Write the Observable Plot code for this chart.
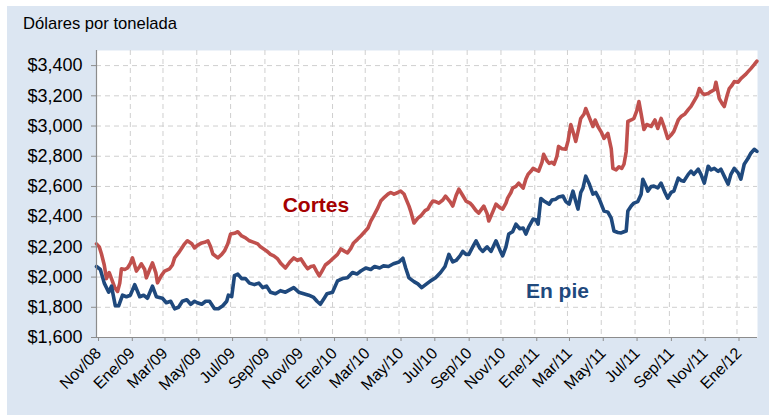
<!DOCTYPE html>
<html>
<head>
<meta charset="utf-8">
<script src="https://cdn.jsdelivr.net/npm/d3@7"></script>
<script src="https://cdn.jsdelivr.net/npm/@observablehq/plot@0.6"></script>
<style>
  html, body { margin: 0; padding: 0; background: white; }
  #wrap { position: relative; width: 769px; height: 415px; background: white; overflow: hidden; }
  #bg { position: absolute; left: 7px; top: 6px; right: 0; bottom: 0; background: #dce6f2; }
  #title { position: absolute; left: 23px; top: 15px; font: 16.6px "Liberation Sans", Arial, sans-serif; line-height: 17px; color: #000; }
  #chart { position: absolute; left: 0; top: 0; }
</style>
</head>
<body>
<div id="wrap">
  <div id="bg"></div>
  <div id="chart"></div>
  <div id="title">Dólares por tonelada</div>
</div>
<script>
// ---- Data ----
const seriesNames = ["Cortes", "En pie"];

const redDates = [
  "2008-11-01","2008-11-06","2008-11-10","2008-11-15","2008-11-19","2008-11-24","2008-11-30",
  "2008-12-04","2008-12-09","2008-12-13","2008-12-16","2008-12-22","2008-12-27",
  "2009-01-01","2009-01-05","2009-01-12","2009-01-18","2009-01-21","2009-01-27","2009-01-30",
  "2009-02-05","2009-02-10","2009-02-16","2009-02-19","2009-02-26",
  "2009-03-04","2009-03-13","2009-03-18","2009-03-22","2009-03-29",
  "2009-04-04","2009-04-09","2009-04-14","2009-04-22","2009-04-27",
  "2009-05-02","2009-05-10","2009-05-15","2009-05-21","2009-05-26","2009-05-30",
  "2009-06-08","2009-06-15","2009-06-20","2009-06-26",
  "2009-07-01","2009-07-08","2009-07-14","2009-07-21","2009-07-28",
  "2009-08-04","2009-08-12","2009-08-19","2009-08-24",
  "2009-09-04","2009-09-11","2009-09-17","2009-09-24","2009-09-29",
  "2009-10-08","2009-10-16","2009-10-23","2009-10-30",
  "2009-11-05","2009-11-12","2009-11-17","2009-11-23","2009-11-28",
  "2009-12-03","2009-12-08","2009-12-13","2009-12-19","2009-12-26",
  "2010-01-03","2010-01-10","2010-01-16","2010-01-23","2010-01-28",
  "2010-02-03","2010-02-08","2010-02-15","2010-02-21","2010-02-28",
  "2010-03-06","2010-03-11","2010-03-16","2010-03-24","2010-03-29",
  "2010-04-05","2010-04-11","2010-04-16","2010-04-22","2010-04-29",
  "2010-05-04","2010-05-10","2010-05-13","2010-05-19","2010-05-22","2010-05-28",
  "2010-06-04","2010-06-09","2010-06-17","2010-06-22","2010-06-27",
  "2010-07-01","2010-07-06","2010-07-12","2010-07-19","2010-07-24",
  "2010-08-01","2010-08-06","2010-08-12","2010-08-17","2010-08-24","2010-08-30",
  "2010-09-06","2010-09-11","2010-09-17","2010-09-22","2010-09-27",
  "2010-10-01","2010-10-07","2010-10-10","2010-10-17","2010-10-23","2010-10-30",
  "2010-11-04","2010-11-10","2010-11-13","2010-11-19","2010-11-22","2010-11-28",
  "2010-12-03","2010-12-11","2010-12-16","2010-12-20","2010-12-25","2010-12-29",
  "2011-01-03","2011-01-08","2011-01-14","2011-01-17","2011-01-23","2011-01-27",
  "2011-02-01","2011-02-05","2011-02-10","2011-02-13","2011-02-19","2011-02-26",
  "2011-03-02","2011-03-07","2011-03-12","2011-03-16","2011-03-21","2011-03-25","2011-03-31",
  "2011-04-03","2011-04-09","2011-04-16","2011-04-20","2011-04-25",
  "2011-05-01","2011-05-06","2011-05-13","2011-05-19","2011-05-22","2011-05-28",
  "2011-06-02","2011-06-07","2011-06-11","2011-06-15","2011-06-18","2011-06-24","2011-06-29",
  "2011-07-04","2011-07-08","2011-07-12","2011-07-17","2011-07-22","2011-07-30",
  "2011-08-06","2011-08-11","2011-08-17","2011-08-22","2011-08-29",
  "2011-09-04","2011-09-09","2011-09-17","2011-09-22","2011-09-29",
  "2011-10-05","2011-10-10","2011-10-15","2011-10-21","2011-10-25","2011-10-30",
  "2011-11-03","2011-11-10","2011-11-15","2011-11-21","2011-11-24","2011-11-30",
  "2011-12-05","2011-12-09","2011-12-14","2011-12-18","2011-12-23","2011-12-27",
  "2012-01-03","2012-01-08","2012-01-16","2012-01-21","2012-01-26",
  "2012-02-01","2012-02-06"
];
const redValues = [
  2220,2200,2153,2080,1990,2030,1970,
  1930,1905,1960,2055,2050,2060,
  2090,2127,2040,2070,2088,2050,1995,
  2050,2094,2030,1962,2010,
  2040,2055,2080,2127,2160,
  2193,2220,2240,2220,2193,
  2210,2226,2230,2240,2200,2153,
  2127,2150,2173,2220,
  2285,2290,2300,2272,2260,
  2240,2230,2220,2200,
  2173,2150,2140,2120,2094,
  2060,2100,2127,2110,
  2120,2080,2055,2070,2074,
  2040,2008,2040,2080,2100,
  2127,2150,2186,2170,2160,
  2190,2226,2250,2272,2300,
  2325,2370,2404,2460,2503,
  2530,2549,2560,2549,2560,
  2569,2550,2523,2470,2437,2358,
  2390,2404,2440,2450,2483,
  2503,2500,2490,2510,2536,
  2500,2470,2540,2582,2540,2503,
  2490,2470,2440,2424,2450,
  2470,2420,2371,2430,2483,2460,
  2450,2490,2523,2560,2589,2600,
  2622,2589,2650,2681,2700,2720,
  2710,2701,2760,2813,2770,2753,
  2760,2747,2800,2865,2850,2846,
  2900,3010,2950,2898,2980,3050,3080,
  3116,3060,2997,3040,2997,
  2960,2918,2951,2850,2720,2710,
  2730,2720,2747,2830,3030,3040,3050,
  3100,3162,3080,2977,3010,2997,
  3040,2984,3050,3000,2918,
  2940,2964,3040,3063,3080,
  3109,3130,3162,3200,3248,3220,
  3208,3215,3228,3240,3290,3182,
  3150,3129,3200,3248,3270,3294,
  3290,3314,3340,3360,3380,
  3406,3430
];

const blueDates = [
  "2008-11-01","2008-11-08","2008-11-15","2008-11-23","2008-11-28",
  "2008-12-05","2008-12-11","2008-12-18","2008-12-25",
  "2009-01-01","2009-01-09","2009-01-18","2009-01-25",
  "2009-02-01","2009-02-10","2009-02-17","2009-02-28",
  "2009-03-07","2009-03-15","2009-03-22","2009-03-29",
  "2009-04-05","2009-04-13","2009-04-20","2009-04-27",
  "2009-05-02","2009-05-10","2009-05-17","2009-05-24",
  "2009-06-02","2009-06-09","2009-06-17","2009-06-24","2009-06-27",
  "2009-07-03","2009-07-08","2009-07-14","2009-07-21","2009-07-28",
  "2009-08-04","2009-08-13","2009-08-21","2009-08-28",
  "2009-09-04","2009-09-11","2009-09-20","2009-09-29",
  "2009-10-08","2009-10-23",
  "2009-11-01","2009-11-10","2009-11-19","2009-11-28",
  "2009-12-04","2009-12-10","2009-12-17","2009-12-22",
  "2010-01-01","2010-01-10","2010-01-19","2010-01-28",
  "2010-02-06","2010-02-14","2010-02-21",
  "2010-03-02","2010-03-11","2010-03-18","2010-03-27",
  "2010-04-03","2010-04-12","2010-04-21",
  "2010-05-01","2010-05-08","2010-05-13","2010-05-19","2010-05-28",
  "2010-06-04","2010-06-11","2010-06-18","2010-06-27",
  "2010-07-06","2010-07-15","2010-07-23","2010-07-30",
  "2010-08-06","2010-08-12","2010-08-19","2010-08-24","2010-08-30",
  "2010-09-04","2010-09-11","2010-09-17","2010-09-24","2010-09-29",
  "2010-10-07","2010-10-14","2010-10-23","2010-10-30",
  "2010-11-04","2010-11-10","2010-11-15","2010-11-22","2010-11-28",
  "2010-12-05","2010-12-11","2010-12-16","2010-12-21","2010-12-29",
  "2011-01-03","2011-01-07","2011-01-12","2011-01-19","2011-01-27",
  "2011-02-01","2011-02-08","2011-02-13","2011-02-21","2011-02-26",
  "2011-03-04","2011-03-11","2011-03-16","2011-03-20","2011-03-25","2011-03-29",
  "2011-04-03","2011-04-09","2011-04-16","2011-04-21","2011-04-27",
  "2011-05-06","2011-05-13","2011-05-19","2011-05-24","2011-05-31",
  "2011-06-06","2011-06-11","2011-06-15","2011-06-18","2011-06-24","2011-06-29",
  "2011-07-06","2011-07-12","2011-07-15","2011-07-21","2011-07-24","2011-07-30",
  "2011-08-04","2011-08-11","2011-08-17","2011-08-24","2011-08-29",
  "2011-09-04","2011-09-09","2011-09-17","2011-09-22","2011-09-27",
  "2011-10-05","2011-10-10","2011-10-15","2011-10-23","2011-10-28",
  "2011-11-03","2011-11-10","2011-11-15","2011-11-21","2011-11-28",
  "2011-12-03","2011-12-10","2011-12-16","2011-12-21","2011-12-27",
  "2012-01-03","2012-01-08","2012-01-14","2012-01-21","2012-01-26",
  "2012-02-01","2012-02-06"
];
const blueValues = [
  2070,2050,1960,1900,1940,
  1810,1810,1880,1870,
  1880,1950,1870,1880,
  1860,1940,1870,1860,
  1830,1840,1790,1800,
  1840,1850,1820,1840,
  1830,1820,1840,1840,
  1790,1790,1810,1840,1880,
  1870,2010,2020,1990,1990,
  1960,1950,1960,1930,
  1940,1900,1890,1910,
  1900,1930,
  1900,1890,1880,1865,
  1840,1820,1860,1890,
  1900,1975,1990,1995,
  2030,2020,2040,
  2060,2050,2070,2060,
  2074,2070,2088,
  2100,2125,2060,1995,1970,
  1955,1930,1950,1975,
  1995,2030,2070,2150,
  2100,2110,2140,2170,2150,
  2150,2200,2240,2190,2170,
  2200,2170,2240,2180,
  2140,2200,2285,2300,2350,
  2320,2325,2285,2330,2384,
  2380,2350,2520,2500,2483,
  2510,2516,2530,2536,2500,
  2483,2569,2500,2450,2560,2589,
  2668,2620,2549,2560,2520,
  2437,2430,2391,2305,2295,
  2292,2300,2305,2437,2470,2490,
  2500,2549,2648,2600,2569,2600,
  2602,2590,2622,2560,2523,
  2560,2569,2655,2640,2635,
  2680,2701,2680,2714,2680,
  2622,2734,2710,2720,2700,
  2714,2660,2615,2680,2720,
  2690,2648,2747,2786,2820,
  2846,2832
];

const yTicks = [1600, 1800, 2000, 2200, 2400, 2600, 2800, 3000, 3200, 3400];
const xTickDates = ["2008-11-01","2009-01-01","2009-03-01","2009-05-01","2009-07-01","2009-09-01","2009-11-01",
  "2010-01-01","2010-03-01","2010-05-01","2010-07-01","2010-09-01","2010-11-01",
  "2011-01-01","2011-03-01","2011-05-01","2011-07-01","2011-09-01","2011-11-01","2012-01-01"];
const xTickLabels = ["Nov/08","Ene/09","Mar/09","May/09","Jul/09","Sep/09","Nov/09",
  "Ene/10","Mar/10","May/10","Jul/10","Sep/10","Nov/10",
  "Ene/11","Mar/11","May/11","Jul/11","Sep/11","Nov/11","Ene/12"];

// label anchors (data space)
const labelDates = ["2009-10-03", "2010-12-16"];
const labelValues = [2473, 1906];

// ---- Build tables ----
const parse = s => new Date(s + "T00:00:00Z");
const red = redDates.map((d, i) => ({date: parse(d), value: redValues[i]}));
const blue = blueDates.map((d, i) => ({date: parse(d), value: blueValues[i]}));
const ticks = xTickDates.map(parse);
const tickLabel = new Map(ticks.map((d, i) => [+d, xTickLabels[i]]));
const labels = seriesNames.map((n, i) => ({name: n, date: parse(labelDates[i]), value: labelValues[i]}));

const RED = "#c0504d", BLUE = "#1f497d";
const AXIS = "#8c8c8c", GRID = "#cfcfcf";

const chart = Plot.plot({
  width: 769,
  height: 415,
  marginLeft: 96,
  marginRight: 12,
  marginTop: 50,
  marginBottom: 78,
  style: {background: "transparent", fontFamily: "'Liberation Sans', Arial, sans-serif", color: "#000", overflow: "visible"},
  x: {type: "utc", domain: [parse("2008-11-01"), parse("2012-02-07")]},
  y: {domain: [1600, 3500]},
  marks: [
    Plot.frame({fill: "white", stroke: null}),
    Plot.gridX(ticks, {stroke: GRID, strokeOpacity: 1, strokeDasharray: "5,4"}),
    Plot.gridY(yTicks, {stroke: GRID, strokeOpacity: 1, strokeDasharray: "5,4"}),
    Plot.line(red, {x: "date", y: "value", stroke: RED, strokeWidth: 3.6, strokeLinejoin: "round"}),
    Plot.line(blue, {x: "date", y: "value", stroke: BLUE, strokeWidth: 3.6, strokeLinejoin: "round"}),
    Plot.axisY(yTicks, {label: null, tickFormat: d3.format("$,"), fontSize: 18, tickSize: 5, tickPadding: 9, stroke: AXIS, fill: "#000"}),
    Plot.axisX(ticks, {label: null, tickFormat: d => tickLabel.get(+d), tickRotate: -45, fontSize: 16, tickSize: 4, tickPadding: 9, dx: 2, stroke: AXIS, fill: "#000"}),
    Plot.ruleX([parse("2008-11-01")], {stroke: AXIS, strokeWidth: 1.2}),
    Plot.ruleY([1600], {stroke: AXIS, strokeWidth: 1.2}),
    Plot.text(labels, {x: "date", y: "value", text: "name", textAnchor: "start", fontSize: 21, fontWeight: "bold",
      fill: d => d.name === "Cortes" ? "#a50000" : BLUE})
  ]
});
document.getElementById("chart").appendChild(chart);
</script>
</body>
</html>
